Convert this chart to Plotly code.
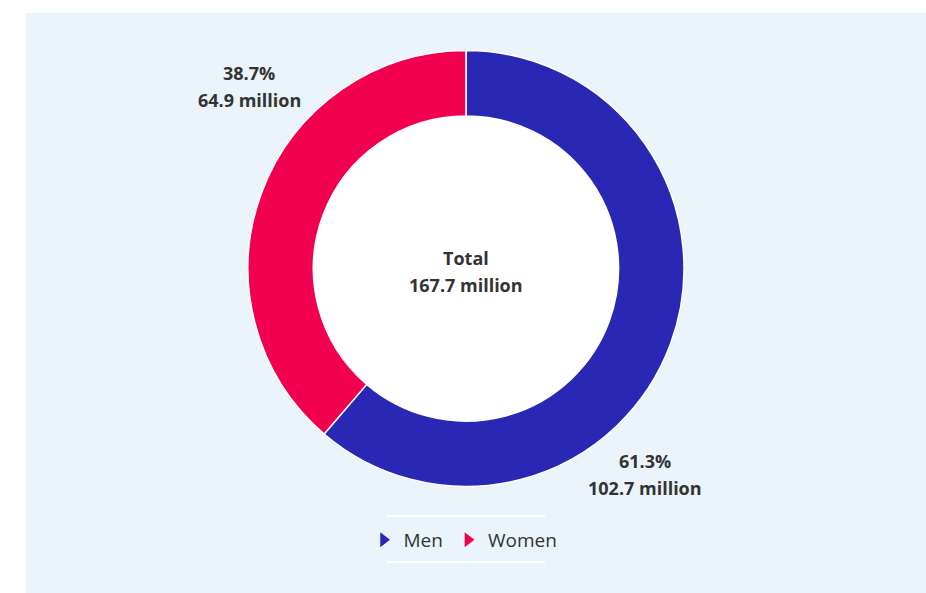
import plotly.graph_objects as go

# ---- data ----
categories = ["Men", "Women"]
values_million = [102.7, 64.9]
percent_labels = [61.3, 38.7]
total_million = 167.7
colors = ["#2828B4", "#F0004F"]

# ---- layout helpers (page pixel -> paper) ----
W, H = 926, 593
ML, MT = 26, 13
PW, PH = W - ML, H - MT


def px(x):
    return (x - ML) / PW


def py(y):
    return 1 - (y - MT) / PH


cx, cy, r = 466, 268.5, 218
hole = 0.70
text_color = "#333333"
font_family = "Open Sans, Noto Sans, sans-serif"

fig = go.Figure()
fig.add_trace(go.Pie(
    labels=categories,
    values=values_million,
    hole=hole,
    sort=False,
    direction="clockwise",
    rotation=0,
    marker=dict(colors=colors, line=dict(color="white", width=1.5)),
    textinfo="none",
    showlegend=False,
    domain=dict(x=[px(cx - r), px(cx + r)], y=[py(cy + r), py(cy - r)]),
))

# legend entries with triangle markers
for name, col in zip(categories, colors):
    fig.add_trace(go.Scatter(
        x=[None], y=[None], mode="markers", name=name,
        marker=dict(symbol="triangle-right", size=13, color=col),
    ))

shapes = [
    dict(type="rect", xref="paper", yref="paper", x0=0, x1=1, y0=0, y1=1,
         fillcolor="#EBF3FB", line=dict(width=0), layer="below"),
    dict(type="circle", xref="paper", yref="paper", xsizemode="pixel", ysizemode="pixel",
         xanchor=px(cx), yanchor=py(cy), x0=-r * hole, x1=r * hole, y0=-r * hole, y1=r * hole,
         fillcolor="white", line=dict(width=0), layer="below"),
    dict(type="line", xref="paper", yref="paper", x0=px(387), x1=px(545), y0=py(516), y1=py(516),
         line=dict(color="#FFFFFF", width=2)),
    dict(type="line", xref="paper", yref="paper", x0=px(387), x1=px(545), y0=py(562), y1=py(562),
         line=dict(color="#FFFFFF", width=2)),
]


def two_line(x, y_top, line1, line2, gap=27):
    out = []
    for txt, yy in ((line1, y_top), (line2, y_top + gap)):
        out.append(dict(
            x=px(x), y=py(yy), xref="paper", yref="paper", showarrow=False,
            xanchor="center", yanchor="middle",
            text=f"<b>{txt}</b>",
            font=dict(family=font_family, size=18, color=text_color),
        ))
    return out


label_pos = {"Men": (645, 461), "Women": (249, 73)}
annotations = []
for name, pct, val in zip(categories, percent_labels, values_million):
    lx, ly = label_pos[name]
    annotations += two_line(lx, ly, f"{pct:.1f}%", f"{val:.1f} million")
annotations += two_line(cx, 258, "Total", f"{total_million:.1f} million")

fig.update_layout(
    width=W, height=H,
    margin=dict(l=ML, r=0, t=MT, b=0),
    paper_bgcolor="white",
    plot_bgcolor="rgba(0,0,0,0)",
    template="none",
    xaxis=dict(visible=False),
    yaxis=dict(visible=False),
    shapes=shapes,
    annotations=annotations,
    showlegend=True,
    legend=dict(orientation="h", x=px(463), xanchor="center", y=py(540), yanchor="middle",
                bgcolor="rgba(0,0,0,0)", font=dict(family=font_family, size=19, color=text_color),
                itemwidth=30),
    font=dict(family=font_family),
)

fig.write_html(
    "out.html",
    config={"displayModeBar": False},
    post_script="document.body.style.margin='0';document.body.style.overflow='hidden';",
)
